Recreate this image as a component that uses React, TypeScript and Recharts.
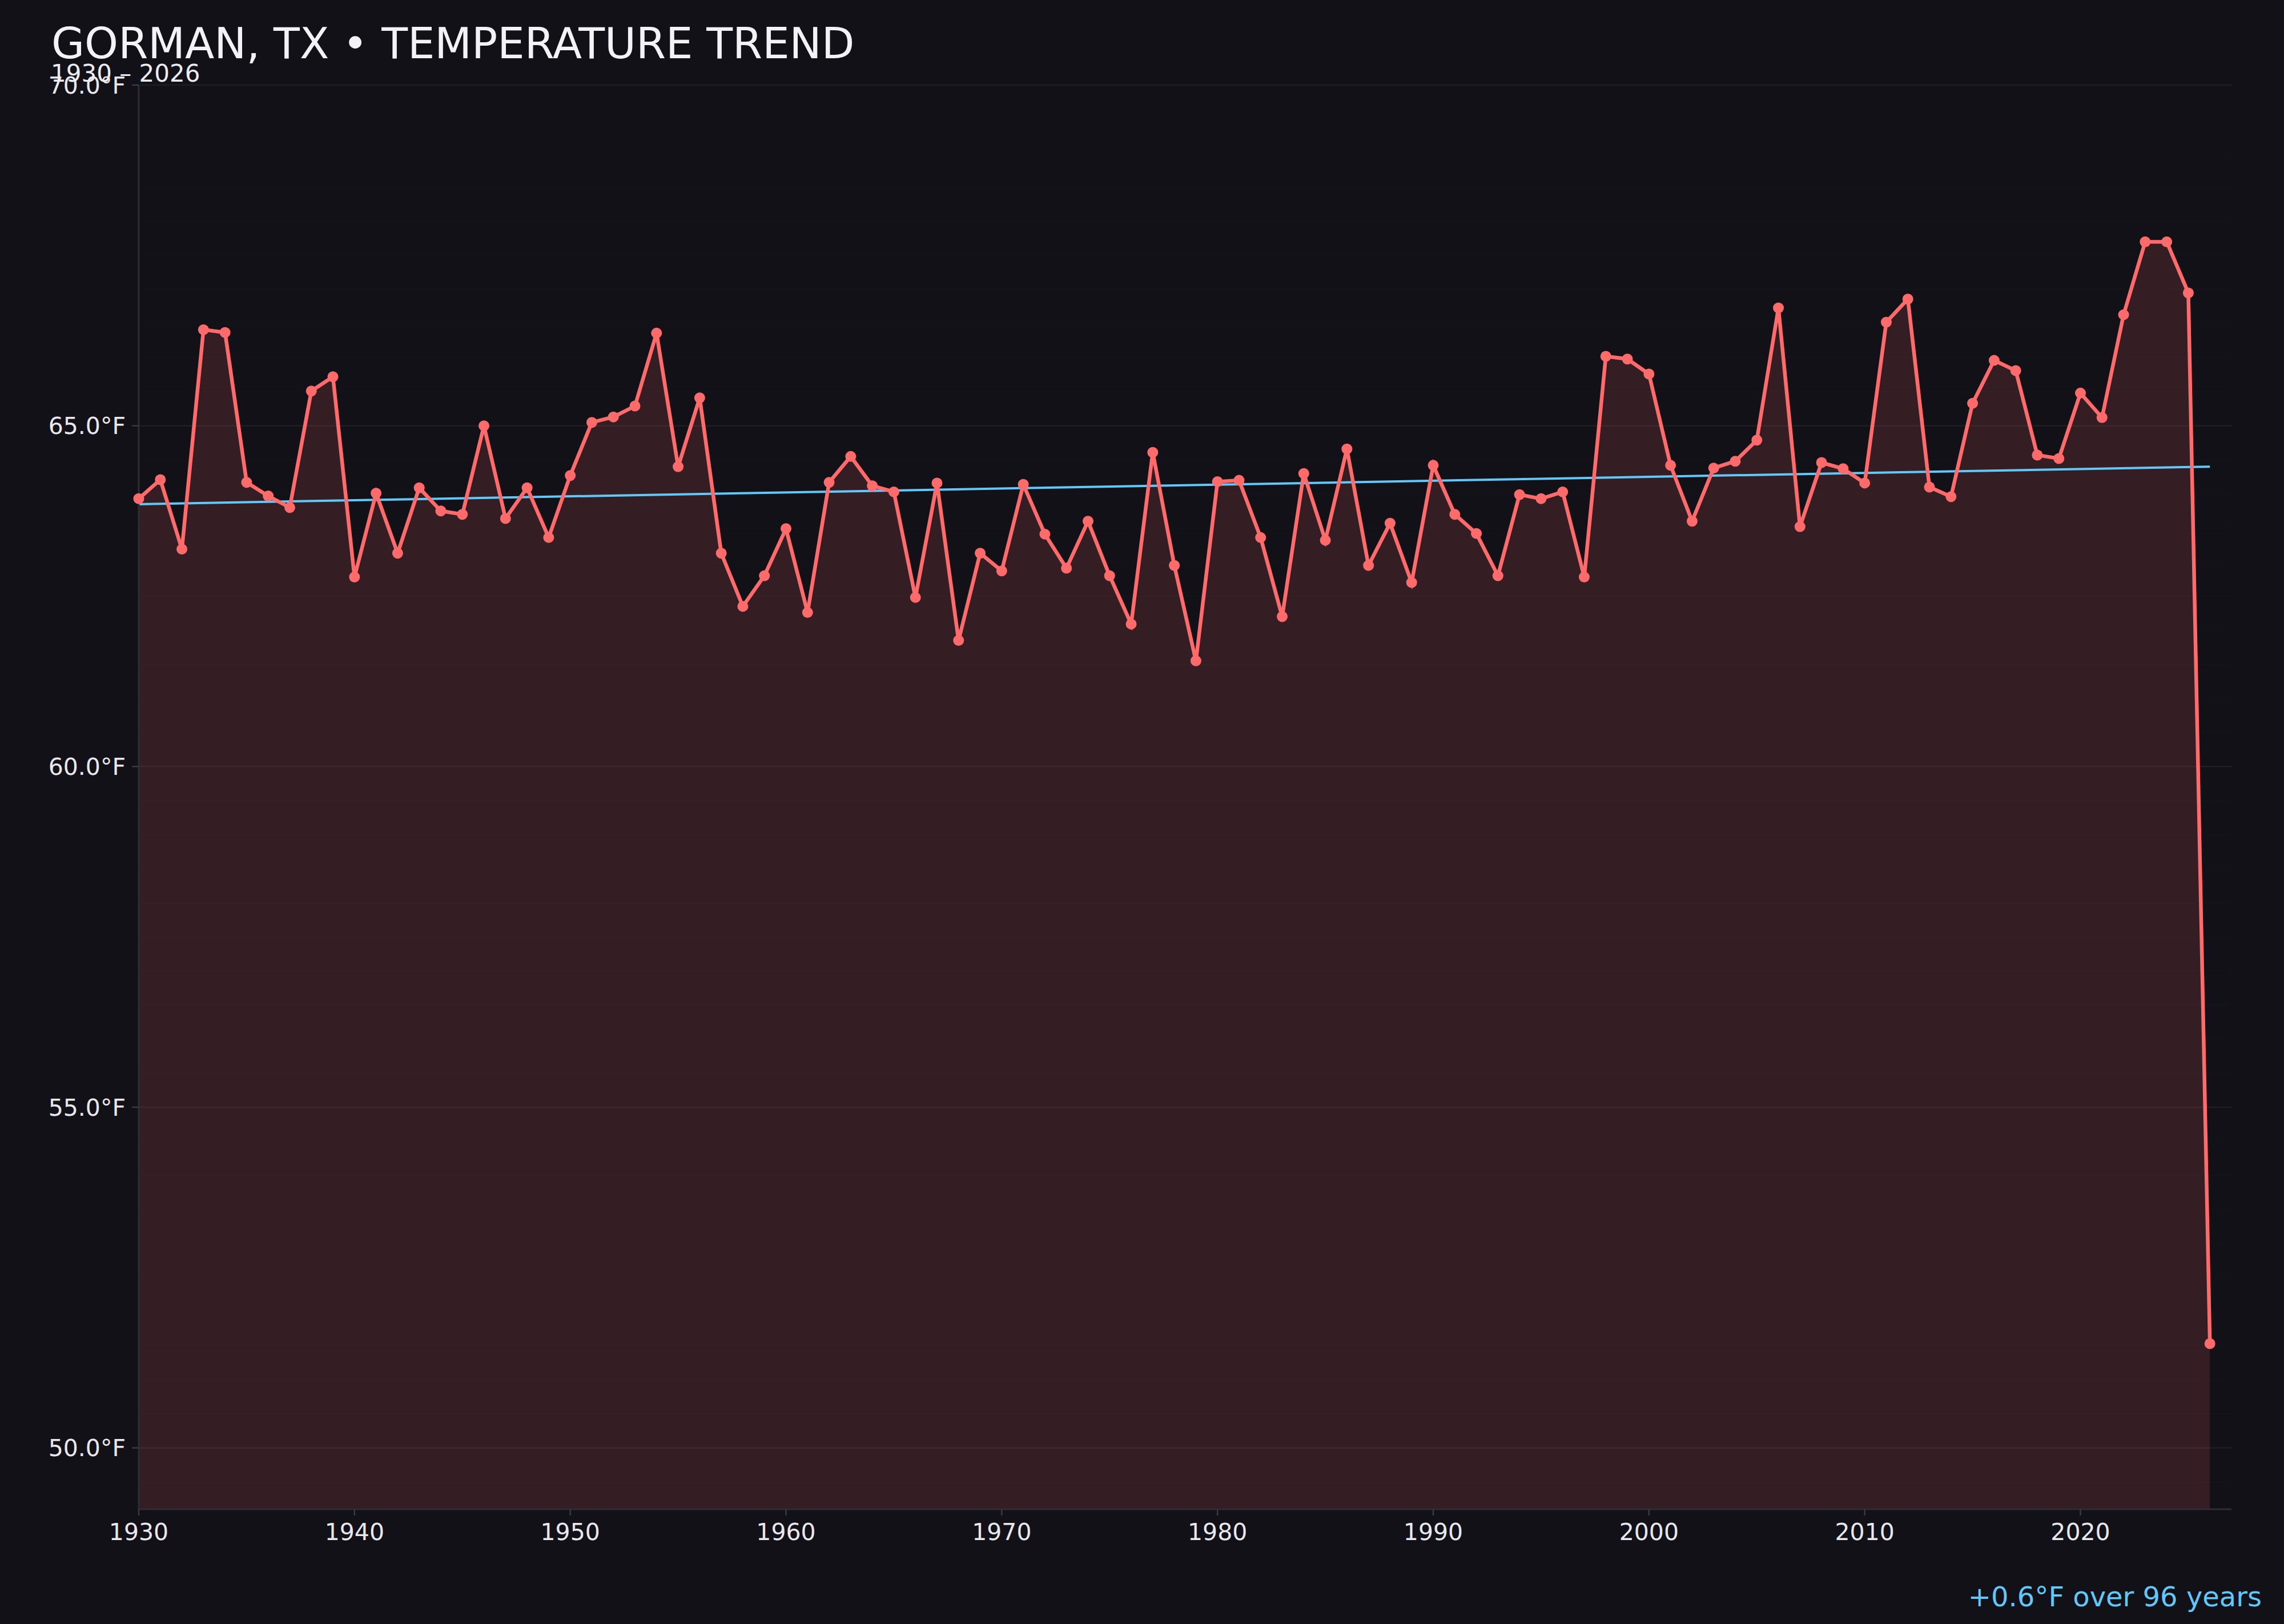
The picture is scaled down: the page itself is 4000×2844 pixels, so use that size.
import React from 'react';
import {
  ComposedChart,
  Area,
  Line,
  XAxis,
  YAxis,
  CartesianGrid,
  ReferenceLine
} from 'recharts';

const years = [
  1930, 1931, 1932, 1933, 1934, 1935, 1936, 1937, 1938, 1939,
  1940, 1941, 1942, 1943, 1944, 1945, 1946, 1947, 1948, 1949,
  1950, 1951, 1952, 1953, 1954, 1955, 1956, 1957, 1958, 1959,
  1960, 1961, 1962, 1963, 1964, 1965, 1966, 1967, 1968, 1969,
  1970, 1971, 1972, 1973, 1974, 1975, 1976, 1977, 1978, 1979,
  1980, 1981, 1982, 1983, 1984, 1985, 1986, 1987, 1988, 1989,
  1990, 1991, 1992, 1993, 1994, 1995, 1996, 1997, 1998, 1999,
  2000, 2001, 2002, 2003, 2004, 2005, 2006, 2007, 2008, 2009,
  2010, 2011, 2012, 2013, 2014, 2015, 2016, 2017, 2018, 2019,
  2020, 2021, 2022, 2023, 2024, 2025, 2026
];

// annual mean temperature, °F
const temps = [
  63.93, 64.21, 63.19, 66.41, 66.37, 64.17, 63.97, 63.8, 65.51, 65.72,
  62.78, 64.01, 63.13, 64.09, 63.75, 63.7, 65.0, 63.64, 64.09, 63.36,
  64.27, 65.05, 65.13, 65.29, 66.36, 64.4, 65.41, 63.13, 62.35, 62.8,
  63.49, 62.26, 64.17, 64.55, 64.12, 64.03, 62.48, 64.16, 61.85, 63.13,
  62.87, 64.14, 63.41, 62.91, 63.6, 62.8, 62.09, 64.61, 62.95, 61.55,
  64.18, 64.2, 63.36, 62.2, 64.3, 63.32, 64.66, 62.95, 63.57, 62.7,
  64.42, 63.7, 63.42, 62.8, 63.99, 63.93, 64.03, 62.78, 66.02, 65.98,
  65.76, 64.42, 63.6, 64.38, 64.48, 64.79, 66.73, 63.52, 64.46, 64.37,
  64.16, 66.52, 66.86, 64.1, 63.96, 65.33, 65.96, 65.81, 64.57, 64.52,
  65.48, 65.12, 66.63, 67.7, 67.7, 66.95, 51.53
];

const trendYears = [1930, 2026];
const trendTemps = [63.85, 64.4];

const xTicks = [1930, 1940, 1950, 1960, 1970, 1980, 1990, 2000, 2010, 2020];
const yTicks = [50, 55, 60, 65, 70];

const W = 4000;
const H = 2844;
const FONT = '"DejaVu Sans", sans-serif';
const BG = '#121117';
const RED = '#ff6b6b';
const BLUE = '#62c8fa';
const SPINE = '#2d2d36';

const data = years.map((year, i) => ({ year, temp: temps[i] }));

// faint half-degree lines behind the major grid
const minorLines: number[] = [];
for (let v = 49.5; v <= 70; v += 0.5) {
  if (v % 5 !== 0) minorLines.push(v);
}

export default function App() {
  const tickStyle = { fill: '#e8e8ee', fontSize: 41, fontFamily: FONT };

  return (
    <div
      style={{
        position: 'absolute',
        left: 0,
        top: 0,
        width: W,
        height: H,
        background: BG,
        overflow: 'hidden'
      }}
    >
      <ComposedChart
        width={W}
        height={H}
        data={data}
        margin={{ top: 149, right: 92, bottom: 0, left: 0 }}
      >
        <CartesianGrid
          horizontal
          vertical={false}
          stroke="#ffffff"
          strokeOpacity={0.055}
          strokeWidth={2.5}
        />
        {minorLines.map((v) => (
          <ReferenceLine
            key={v}
            y={v}
            stroke="#ffffff"
            strokeOpacity={0.012}
            strokeWidth={2}
          />
        ))}
        <XAxis
          type="number"
          dataKey="year"
          domain={[1930, 2027]}
          ticks={xTicks}
          interval={0}
          height={201}
          tick={tickStyle}
          tickSize={11}
          tickMargin={14}
          axisLine={{ stroke: SPINE, strokeWidth: 3 }}
          tickLine={{ stroke: '#3a3a44', strokeWidth: 2.5 }}
        />
        <YAxis
          type="number"
          domain={[49.1, 70]}
          allowDataOverflow
          ticks={yTicks}
          interval={0}
          width={243}
          tick={tickStyle}
          tickSize={12}
          tickMargin={11}
          tickFormatter={(v: number) => `${v.toFixed(1)}°F`}
          axisLine={{ stroke: SPINE, strokeWidth: 3 }}
          tickLine={{ stroke: '#3a3a44', strokeWidth: 2.5 }}
        />
        <Area
          type="linear"
          dataKey="temp"
          baseValue="dataMin"
          stroke="none"
          fill={RED}
          fillOpacity={0.15}
          isAnimationActive={false}
        />
        <ReferenceLine
          segment={[
            { x: trendYears[0], y: trendTemps[0] },
            { x: trendYears[1], y: trendTemps[1] }
          ]}
          stroke={BLUE}
          strokeWidth={4}
          ifOverflow="visible"
        />
        <Line
          type="linear"
          dataKey="temp"
          stroke={RED}
          strokeWidth={6.5}
          dot={{ r: 9.5, fill: RED, stroke: 'none' }}
          activeDot={false}
          isAnimationActive={false}
        />
      </ComposedChart>
      <svg
        width={W}
        height={H}
        style={{ position: 'absolute', left: 0, top: 0, pointerEvents: 'none' }}
      >
        <text x={90} y={102} fill="#f2f2f7" fontSize={75} fontFamily={FONT}>
          GORMAN, TX • TEMPERATURE TREND
        </text>
        <text x={89} y={143} fill="#ececf2" fontSize={42} fontFamily={FONT}>
          1930 – 2026
        </text>
        <text
          x={3961}
          y={2813}
          fill={BLUE}
          fontSize={48}
          fontFamily={FONT}
          textAnchor="end"
        >
          +0.6°F over 96 years
        </text>
      </svg>
    </div>
  );
}
